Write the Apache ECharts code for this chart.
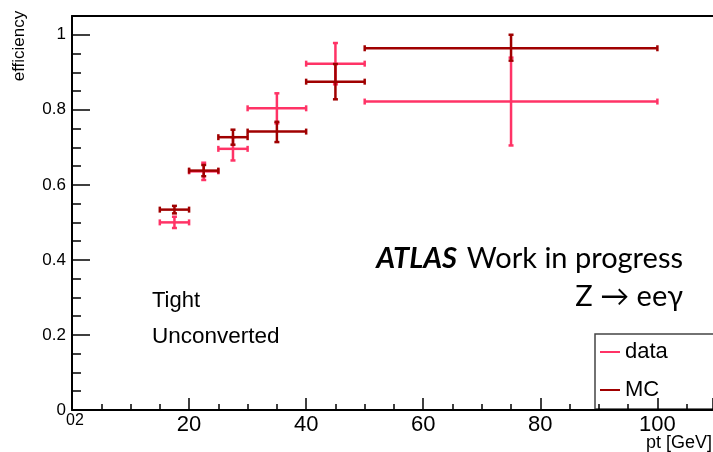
<!DOCTYPE html>
<html>
<head>
<meta charset="utf-8">
<script src="https://cdn.jsdelivr.net/npm/echarts@6/dist/echarts.min.js"></script>
<style>
  html, body { margin: 0; padding: 0; background: #fff; }
  #chart { width: 713px; height: 452px; }
</style>
</head>
<body>
<div id="chart"></div>
<script>
// pt bins [GeV]
const binLow  = [15, 20, 25, 30, 40, 50];
const binHigh = [20, 25, 30, 40, 50, 100];
const binCenter = [17.5, 22.5, 27.5, 35, 45, 75];

// photon ID efficiency, data
const dataEff     = [0.500, 0.636, 0.696, 0.804, 0.923, 0.822];
const dataErrLow  = [0.015, 0.023, 0.031, 0.040, 0.055, 0.117];
const dataErrHigh = [0.015, 0.023, 0.031, 0.040, 0.055, 0.117];

// photon ID efficiency, MC
const mcEff     = [0.534, 0.638, 0.727, 0.742, 0.875, 0.964];
const mcErrLow  = [0.010, 0.015, 0.020, 0.028, 0.047, 0.033];
const mcErrHigh = [0.010, 0.015, 0.020, 0.026, 0.047, 0.036];

// axis tick labels
const xTickLabels = [20, 40, 60, 80, 100];
const yTickLabels = [0, 0.2, 0.4, 0.6, 0.8, 1];

const DATA_COLOR = '#ff3366';
const MC_COLOR = '#a00000';
const AXIS_FONT = 'Liberation Sans';

function points(eff, lo, hi) {
  return eff.map((e, i) => [binLow[i], binHigh[i], e, e - lo[i], e + hi[i], binCenter[i]]);
}

// cross-shaped error bar with short end caps
function errorBarRenderer(color) {
  return function (params, api) {
    const xl = api.coord([api.value(0), api.value(2)]);
    const xr = api.coord([api.value(1), api.value(2)]);
    const yb = api.coord([api.value(5), api.value(3)]);
    const yt = api.coord([api.value(5), api.value(4)]);
    const style = { stroke: color, lineWidth: 2.5, fill: null };
    const cap = 3, vcap = 2.5;
    return {
      type: 'group',
      children: [
        { type: 'line', shape: { x1: xl[0], y1: xl[1], x2: xr[0], y2: xr[1] }, style },
        { type: 'line', shape: { x1: xl[0], y1: xl[1] - cap, x2: xl[0], y2: xl[1] + cap }, style },
        { type: 'line', shape: { x1: xr[0], y1: xr[1] - cap, x2: xr[0], y2: xr[1] + cap }, style },
        { type: 'line', shape: { x1: yb[0], y1: yb[1], x2: yt[0], y2: yt[1] }, style },
        { type: 'line', shape: { x1: yb[0] - vcap, y1: yb[1], x2: yb[0] + vcap, y2: yb[1] }, style },
        { type: 'line', shape: { x1: yt[0] - vcap, y1: yt[1], x2: yt[0] + vcap, y2: yt[1] }, style }
      ]
    };
  };
}

const chart = echarts.init(document.getElementById('chart'), null, { renderer: 'canvas' });

const axisLineStyle = { color: '#000', width: 2 };
const tickStyle = { color: '#000', width: 1.5 };

chart.setOption({
  animation: false,
  backgroundColor: '#fff',
  grid: { left: 72, right: -1, top: 16, bottom: 42 },
  xAxis: [
    {
      type: 'value', min: 0, max: 109.5, interval: 20, position: 'bottom',
      axisLine: { onZero: false, lineStyle: axisLineStyle },
      axisTick: { inside: true, length: 12, lineStyle: tickStyle },
      minorTick: { show: true, splitNumber: 4, length: 6, lineStyle: tickStyle },
      axisLabel: {
        fontSize: 22, color: '#000', fontFamily: AXIS_FONT, margin: 4,
        showMaxLabel: false,
        formatter: v => xTickLabels.includes(Math.round(v)) && Math.abs(v - Math.round(v)) < 1e-6 ? String(Math.round(v)) : ''
      },
      splitLine: { show: false }
    },
    {
      type: 'value', min: 0, max: 109.5, position: 'top',
      axisLine: { show: true, onZero: false, lineStyle: axisLineStyle },
      axisTick: { show: false }, axisLabel: { show: false }, splitLine: { show: false }
    }
  ],
  yAxis: [
    {
      type: 'value', min: 0, max: 1.05, interval: 0.2, position: 'left',
      axisLine: { onZero: false, lineStyle: axisLineStyle },
      axisTick: { inside: true, length: 18, lineStyle: tickStyle },
      axisLabel: {
        fontSize: 17, color: '#000', fontFamily: AXIS_FONT, margin: 6,
        formatter: v => {
          const r = Math.round(v * 10) / 10;
          return yTickLabels.some(t => Math.abs(t - v) < 1e-6) ? String(r) : '';
        }
      },
      splitLine: { show: false }
    },
    {
      type: 'value', min: 0, max: 1.05, interval: 0.05, position: 'left',
      axisLine: { show: false, onZero: false },
      axisTick: { inside: true, length: 9, lineStyle: tickStyle },
      axisLabel: { show: false }, splitLine: { show: false }
    }
  ],
  series: [
    {
      name: 'data', type: 'custom', xAxisIndex: 0, yAxisIndex: 0,
      renderItem: errorBarRenderer(DATA_COLOR),
      data: points(dataEff, dataErrLow, dataErrHigh), z: 2
    },
    {
      name: 'MC', type: 'custom', xAxisIndex: 0, yAxisIndex: 0,
      renderItem: errorBarRenderer(MC_COLOR),
      data: points(mcEff, mcErrLow, mcErrHigh), z: 3
    }
  ],
  graphic: [
    {
      type: 'text', x: 19, y: 46, rotation: Math.PI / 2,
      style: { text: 'efficiency', fontSize: 17, fontFamily: AXIS_FONT, fill: '#000', align: 'center', verticalAlign: 'middle' }
    },
    {
      type: 'text', x: 712, y: 443,
      style: { text: 'pt [GeV]', fontSize: 18, fontFamily: AXIS_FONT, fill: '#000', align: 'right', verticalAlign: 'middle' }
    },
    {
      type: 'text', x: 66, y: 421,
      style: { text: '02', fontSize: 16, fontFamily: AXIS_FONT, fill: '#000', align: 'left', verticalAlign: 'middle' }
    },
    {
      type: 'text', x: 152, y: 301,
      style: { text: 'Tight', fontSize: 22, fontFamily: AXIS_FONT, fill: '#000', align: 'left', verticalAlign: 'middle' }
    },
    {
      type: 'text', x: 152, y: 337,
      style: { text: 'Unconverted', fontSize: 22.5, fontFamily: AXIS_FONT, fill: '#000', align: 'left', verticalAlign: 'middle' }
    },
    {
      type: 'text', x: 683, y: 259,
      style: {
        text: '{b|ATLAS}{n|Work in progress}', align: 'right', verticalAlign: 'middle',
        rich: {
          b: { fontSize: 29, fontFamily: 'Lato', fontWeight: 'bold', fontStyle: 'italic', fill: '#000', padding: [0, 10, 0, 0] },
          n: { fontSize: 29, fontFamily: 'Lato', fill: '#000' }
        }
      }
    },
    {
      type: 'text', x: 683, y: 297,
      style: { text: 'Z \u2192 ee\u03b3', fontSize: 29, fontFamily: 'Lato', fill: '#000', align: 'right', verticalAlign: 'middle' }
    },
    {
      type: 'group', z: 100,
      children: [
        { type: 'rect', shape: { x: 595, y: 334, width: 140, height: 75 }, style: { fill: '#fff', stroke: '#444', lineWidth: 1.5 } },
        { type: 'line', shape: { x1: 600, y1: 352, x2: 620, y2: 352 }, style: { stroke: DATA_COLOR, lineWidth: 2 } },
        { type: 'text', x: 625, y: 352, style: { text: 'data', fontSize: 22, fontFamily: AXIS_FONT, fill: '#000', align: 'left', verticalAlign: 'middle' } },
        { type: 'line', shape: { x1: 600, y1: 390, x2: 620, y2: 390 }, style: { stroke: MC_COLOR, lineWidth: 2 } },
        { type: 'text', x: 625, y: 390, style: { text: 'MC', fontSize: 22, fontFamily: AXIS_FONT, fill: '#000', align: 'left', verticalAlign: 'middle' } }
      ]
    }
  ]
});
</script>
</body>
</html>
